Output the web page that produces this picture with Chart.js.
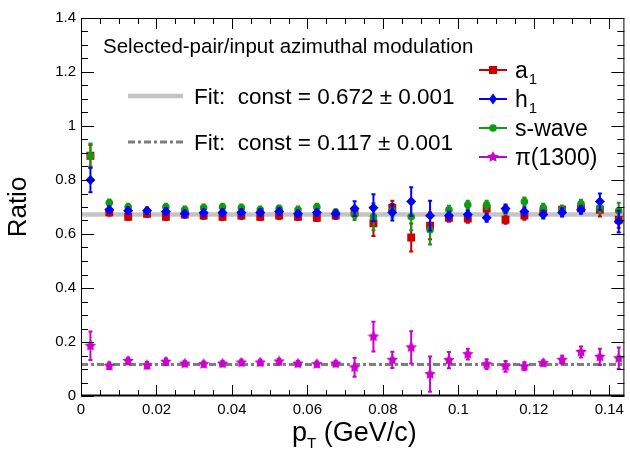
<!DOCTYPE html>
<html>
<head>
<meta charset="utf-8">
<script src="https://cdn.jsdelivr.net/npm/chart.js@4.4.1/dist/chart.umd.min.js"></script>
<style>
    html, body { margin: 0; padding: 0; background: #fff; }
    #wrap { width: 630px; height: 450px; }
</style>
</head>
<body>
<div id="wrap"><canvas id="ratioChart" width="630" height="450"></canvas></div>
<script>
// Dados
const ptBins = [0.0025, 0.0075, 0.0125, 0.0175, 0.0225, 0.0275, 0.0325, 0.0375, 0.0425, 0.0475,
                0.0525, 0.0575, 0.0625, 0.0675, 0.0725, 0.0775, 0.0825, 0.0875, 0.0925, 0.0975,
                0.1025, 0.1075, 0.1125, 0.1175, 0.1225, 0.1275, 0.1325, 0.1375, 0.1425];

const a1Values = [0.890, 0.680, 0.664, 0.675, 0.664, 0.672, 0.668, 0.664, 0.668, 0.664,
                  0.668, 0.664, 0.660, 0.668, 0.680, 0.640, 0.697, 0.587, 0.631, 0.660,
                  0.657, 0.694, 0.653, 0.668, 0.680, 0.690, 0.695, 0.690, 0.653];
const a1Errors = [0.040, 0.012, 0.012, 0.012, 0.012, 0.012, 0.012, 0.012, 0.012, 0.012,
                  0.012, 0.012, 0.012, 0.012, 0.020, 0.047, 0.026, 0.052, 0.050, 0.015,
                  0.015, 0.015, 0.015, 0.015, 0.015, 0.015, 0.015, 0.025, 0.030];

const h1Values = [0.800, 0.690, 0.686, 0.686, 0.683, 0.675, 0.679, 0.680, 0.680, 0.680,
                  0.683, 0.675, 0.680, 0.675, 0.694, 0.697, 0.680, 0.720, 0.668, 0.668,
                  0.672, 0.660, 0.694, 0.683, 0.672, 0.680, 0.690, 0.720, 0.646];
const h1Errors = [0.045, 0.012, 0.012, 0.012, 0.012, 0.012, 0.012, 0.012, 0.012, 0.012,
                  0.012, 0.012, 0.012, 0.012, 0.027, 0.050, 0.030, 0.053, 0.055, 0.015,
                  0.015, 0.015, 0.015, 0.015, 0.015, 0.015, 0.015, 0.030, 0.040];

const sWaveValues = [0.890, 0.716, 0.700, 0.685, 0.700, 0.690, 0.697, 0.700, 0.697, 0.690,
                     0.694, 0.690, 0.700, 0.680, 0.672, 0.664, 0.686, 0.664, 0.616, 0.690,
                     0.708, 0.708, 0.690, 0.720, 0.697, 0.690, 0.712, 0.697, 0.686];
const sWaveErrors = [0.045, 0.012, 0.012, 0.012, 0.012, 0.012, 0.012, 0.012, 0.012, 0.012,
                     0.012, 0.012, 0.012, 0.012, 0.020, 0.050, 0.025, 0.050, 0.055, 0.015,
                     0.015, 0.015, 0.015, 0.015, 0.015, 0.015, 0.015, 0.020, 0.030];

const pi1300Values = [0.186, 0.112, 0.130, 0.114, 0.127, 0.120, 0.118, 0.120, 0.124, 0.124,
                      0.128, 0.120, 0.118, 0.120, 0.106, 0.220, 0.134, 0.180, 0.081, 0.133,
                      0.155, 0.118, 0.110, 0.110, 0.122, 0.134, 0.163, 0.145, 0.140];
const pi1300Errors = [0.053, 0.012, 0.012, 0.012, 0.012, 0.010, 0.010, 0.010, 0.010, 0.010,
                      0.010, 0.010, 0.010, 0.010, 0.035, 0.055, 0.030, 0.060, 0.065, 0.030,
                      0.020, 0.018, 0.020, 0.015, 0.010, 0.015, 0.020, 0.030, 0.040];

const fitConstA = 0.672;
const fitConstB = 0.117;

const xTickValues = [0, 0.02, 0.04, 0.06, 0.08, 0.1, 0.12, 0.14];
const xTickLabels = ['0', '0.02', '0.04', '0.06', '0.08', '0.1', '0.12', '0.14'];
const yTickValues = [0, 0.2, 0.4, 0.6, 0.8, 1.0, 1.2, 1.4];
const yTickLabels = ['0', '0.2', '0.4', '0.6', '0.8', '1', '1.2', '1.4'];

const X_MAX = 0.144;
const Y_MAX = 1.4;
const FONT = "'Liberation Sans', Arial, Helvetica, sans-serif";

// Cores
const RED = '#cc0000';
const BLUE = '#0000ff';
const GREEN = '#109c10';
const MAGENTA = '#cc00cc';

function toPoints(values) {
    return values.map((v, i) => ({ x: ptBins[i], y: v }));
}

// Estrela preenchida (marcador do pi(1300))
function makeStar(color, size) {
    const c = document.createElement('canvas');
    c.width = size;
    c.height = size;
    const g = c.getContext('2d');
    const cx = size / 2, cy = size / 2, R = size / 2, r = R * 0.5;
    g.fillStyle = color;
    g.beginPath();
    for (let i = 0; i < 10; i++) {
        const ang = -Math.PI / 2 + i * Math.PI / 5;
        const rad = i % 2 ? r : R;
        g.lineTo(cx + rad * Math.cos(ang), cy + rad * Math.sin(ang));
    }
    g.closePath();
    g.fill();
    return c;
}
const starImg = makeStar(MAGENTA, 12);

// Marcadores da legenda
function drawMarker(ctx, shape, x, y, color) {
    ctx.fillStyle = color;
    ctx.beginPath();
    if (shape === 'square') {
        ctx.rect(x - 4, y - 4, 8, 8);
    } else if (shape === 'diamond') {
        ctx.moveTo(x, y - 5.5); ctx.lineTo(x + 4, y); ctx.lineTo(x, y + 5.5); ctx.lineTo(x - 4, y);
    } else if (shape === 'circle') {
        ctx.arc(x, y, 3.8, 0, Math.PI * 2);
    }
    ctx.fill();
    if (shape === 'star') {
        ctx.drawImage(starImg, x - 6, y - 6);
    }
}

// Barras de erro (desenhadas antes dos marcadores de cada série)
const errorBarsPlugin = {
    id: 'errorBars',
    beforeDatasetDraw(chart, args) {
        const ds = chart.data.datasets[args.index];
        if (!ds.errors) return;
        const ctx = chart.ctx;
        const xs = chart.scales.x, ys = chart.scales.y;
        ctx.save();
        ctx.strokeStyle = ds.borderColor;
        ctx.lineWidth = 2;
        ds.data.forEach((p, i) => {
            const e = ds.errors[i];
            const px = xs.getPixelForValue(p.x);
            const top = ys.getPixelForValue(p.y + e);
            const bot = ys.getPixelForValue(Math.max(p.y - e, 0));
            ctx.beginPath();
            ctx.moveTo(px, top); ctx.lineTo(px, bot);
            ctx.moveTo(px - 2, top); ctx.lineTo(px + 2, top);
            ctx.moveTo(px - 2, bot); ctx.lineTo(px + 2, bot);
            ctx.stroke();
        });
        ctx.restore();
    }
};

// Moldura com ticks internos (estilo ROOT), textos e legendas
const framePlugin = {
    id: 'frame',
    afterDraw(chart) {
        const { ctx, chartArea: a, scales: { x, y } } = chart;
        ctx.save();

        // moldura
        ctx.strokeStyle = '#000';
        ctx.lineWidth = 1;
        ctx.strokeRect(a.left + 0.5, a.top + 0.5, a.right - a.left - 1, a.bottom - a.top - 1);
        ctx.lineWidth = 2;
        ctx.beginPath();
        ctx.moveTo(a.left, a.bottom - 0.5);
        ctx.lineTo(a.right, a.bottom - 0.5);
        ctx.stroke();

        // ticks
        ctx.lineWidth = 1;
        ctx.beginPath();
        for (let k = 0; k * 0.005 <= X_MAX + 1e-9; k++) {
            const px = Math.round(x.getPixelForValue(k * 0.005)) + 0.5;
            const len = k % 4 === 0 ? 11 : 6;
            ctx.moveTo(px, a.bottom); ctx.lineTo(px, a.bottom - len);
            ctx.moveTo(px, a.top); ctx.lineTo(px, a.top + len);
        }
        for (let k = 0; k * 0.05 <= Y_MAX + 1e-9; k++) {
            const py = Math.round(y.getPixelForValue(k * 0.05)) + 0.5;
            const len = k % 4 === 0 ? 13 : 7;
            ctx.moveTo(a.left, py); ctx.lineTo(a.left + len, py);
            ctx.moveTo(a.right, py); ctx.lineTo(a.right - len, py);
        }
        ctx.stroke();

        ctx.fillStyle = '#000';
        ctx.textBaseline = 'alphabetic';
        ctx.textAlign = 'left';

        // título interno
        ctx.font = `20.5px ${FONT}`;
        ctx.fillText('Selected-pair/input azimuthal modulation', 103, 53);

        // legenda dos ajustes
        ctx.lineWidth = 4.5;
        ctx.strokeStyle = '#c4c4c4';
        ctx.beginPath(); ctx.moveTo(128, 96); ctx.lineTo(183, 96); ctx.stroke();
        ctx.lineWidth = 3;
        ctx.strokeStyle = '#7f7f7f';
        ctx.setLineDash([7, 3, 3, 3]);
        ctx.beginPath(); ctx.moveTo(128, 142); ctx.lineTo(183, 142); ctx.stroke();
        ctx.setLineDash([]);
        ctx.font = `22.5px ${FONT}`;
        ctx.fillText(`Fit:  const = ${fitConstA.toFixed(3)} \u00b1 0.001`, 194, 104);
        ctx.fillText(`Fit:  const = ${fitConstB.toFixed(3)} \u00b1 0.001`, 194, 150);

        // legenda das séries
        const items = [
            { text: 'a', sub: '1', color: RED, shape: 'square', y: 70 },
            { text: 'h', sub: '1', color: BLUE, shape: 'diamond', y: 99 },
            { text: 's-wave', sub: '', color: GREEN, shape: 'circle', y: 128 },
            { text: '\u03c0(1300)', sub: '', color: MAGENTA, shape: 'star', y: 157 }
        ];
        items.forEach(it => {
            ctx.strokeStyle = it.color;
            ctx.lineWidth = 2;
            ctx.beginPath(); ctx.moveTo(479, it.y); ctx.lineTo(507, it.y); ctx.stroke();
            drawMarker(ctx, it.shape, 493, it.y, it.color);
            ctx.fillStyle = '#000';
            ctx.font = `23px ${FONT}`;
            ctx.fillText(it.text, 515, it.y + 8);
            if (it.sub) {
                const w = ctx.measureText(it.text).width;
                ctx.font = `15px ${FONT}`;
                ctx.fillText(it.sub, 515 + w + 1, it.y + 14);
            }
        });

        // título do eixo x: p_T (GeV/c)
        ctx.fillStyle = '#000';
        ctx.font = `27px ${FONT}`;
        let tx = 292;
        ctx.fillText('p', tx, 441);
        tx += ctx.measureText('p').width;
        ctx.font = `15px ${FONT}`;
        ctx.fillText('T', tx, 448);
        tx += ctx.measureText('T').width;
        ctx.font = `27px ${FONT}`;
        ctx.fillText(' (GeV/c)', tx, 441);

        ctx.restore();
    }
};

const ctx = document.getElementById('ratioChart').getContext('2d');

new Chart(ctx, {
    type: 'scatter',
    data: {
        datasets: [
            {
                label: 'h1', data: toPoints(h1Values), errors: h1Errors,
                borderColor: BLUE, backgroundColor: BLUE,
                pointStyle: 'rectRot', pointRadius: 5, pointBorderWidth: 0, order: 1
            },
            {
                label: 's-wave', data: toPoints(sWaveValues), errors: sWaveErrors,
                borderColor: GREEN, backgroundColor: GREEN,
                pointStyle: 'circle', pointRadius: 3.8, pointBorderWidth: 0, order: 2
            },
            {
                label: 'a1', data: toPoints(a1Values), errors: a1Errors,
                borderColor: RED, backgroundColor: RED,
                pointStyle: 'rect', pointRadius: 5.6, pointBorderWidth: 0, order: 3
            },
            {
                label: 'pi(1300)', data: toPoints(pi1300Values), errors: pi1300Errors,
                borderColor: MAGENTA, backgroundColor: MAGENTA,
                pointStyle: starImg, order: 4
            },
            {
                label: 'fit a', type: 'line',
                data: [{ x: 0, y: fitConstA }, { x: X_MAX, y: fitConstA }],
                borderColor: '#c4c4c4', borderWidth: 4.5, pointRadius: 0, order: 10
            },
            {
                label: 'fit b', type: 'line',
                data: [{ x: 0, y: fitConstB }, { x: X_MAX, y: fitConstB }],
                borderColor: '#7f7f7f', borderWidth: 3, borderDash: [7, 3, 3, 3],
                pointRadius: 0, order: 10
            }
        ]
    },
    options: {
        responsive: false,
        animation: false,
        devicePixelRatio: 1,
        layout: { padding: { top: 18, right: 4, left: 0, bottom: 0 } },
        plugins: {
            legend: { display: false },
            tooltip: { enabled: false }
        },
        scales: {
            x: {
                type: 'linear',
                min: 0,
                max: X_MAX,
                grid: { display: false, drawTicks: false },
                border: { display: false },
                afterBuildTicks(s) { s.ticks = xTickValues.map(v => ({ value: v })); },
                afterFit(s) {
                    s.height = 54;
                    s.paddingLeft = 0; s.paddingRight = 0;
                },
                ticks: {
                    autoSkip: false,
                    maxRotation: 0,
                    padding: 5,
                    color: '#000',
                    font: { family: FONT, size: 15 },
                    callback: (v, i) => xTickLabels[i]
                }
            },
            y: {
                min: 0,
                max: Y_MAX,
                grid: { display: false, drawTicks: false },
                border: { display: false },
                afterBuildTicks(s) { s.ticks = yTickValues.map(v => ({ value: v })); },
                afterFit(s) {
                    s.width = 81;
                    s.paddingTop = 0; s.paddingBottom = 0;
                },
                title: {
                    display: true,
                    text: 'Ratio',
                    color: '#000',
                    font: { family: FONT, size: 26 },
                    padding: { top: 3, bottom: 0 }
                },
                ticks: {
                    padding: 5,
                    color: '#000',
                    font: { family: FONT, size: 15 },
                    callback: (v, i) => yTickLabels[i]
                }
            }
        }
    },
    plugins: [errorBarsPlugin, framePlugin]
});
</script>
</body>
</html>
